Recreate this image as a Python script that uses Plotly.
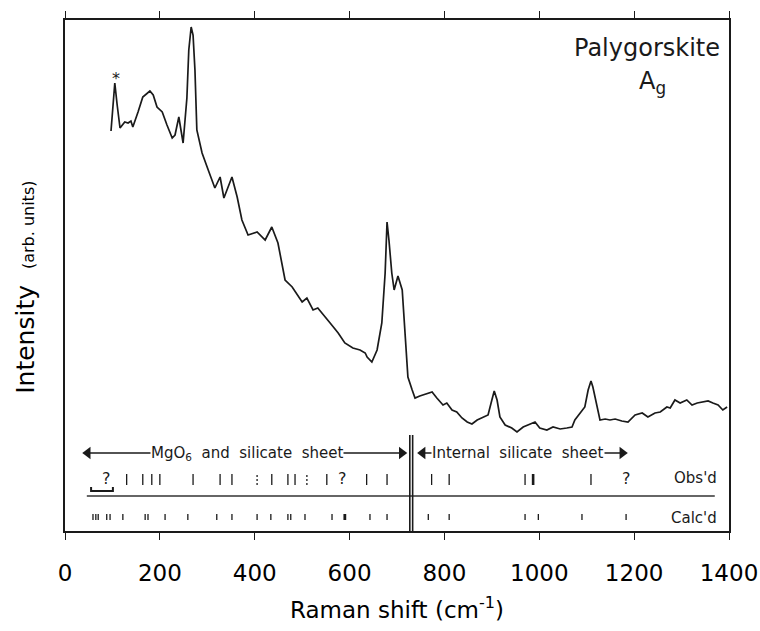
import plotly.graph_objects as go

# ---------------- data ----------------
raman_shift = [97, 101, 105, 110, 116, 126, 133, 139, 143, 154, 164, 179, 186, 194, 205, 215, 226, 232,
               240, 249, 257, 261, 266, 270, 274, 278, 289, 302, 316, 327, 335, 352, 363, 373, 386, 405,
               422, 436, 449, 464, 479, 500, 510, 523, 533, 559, 576, 590, 607, 622, 633, 637, 647, 658,
               668, 675, 679, 683, 689, 694, 702, 711, 717, 723, 732, 738, 748, 759, 774, 784, 797, 805,
               816, 826, 837, 848, 858, 869, 881, 892, 900, 905, 911, 917, 928, 942, 953, 966, 976, 991,
               1001, 1016, 1029, 1044, 1058, 1069, 1075, 1086, 1096, 1103, 1109, 1113, 1122, 1128, 1139,
               1149, 1160, 1174, 1187, 1202, 1217, 1229, 1244, 1255, 1269, 1276, 1286, 1297, 1311, 1322,
               1333, 1343, 1356, 1366, 1377, 1387, 1396]
intensity = [400, 426, 448, 426, 403, 409, 408, 410, 404, 419, 434, 440, 436, 424, 419, 406, 393, 396,
             414, 388, 433, 481, 504, 496, 461, 401, 378, 361, 343, 354, 333, 354, 334, 311, 296, 299,
             291, 304, 288, 251, 244, 229, 233, 221, 223, 208, 198, 188, 183, 181, 178, 174, 169, 181,
             208, 258, 309, 291, 258, 241, 255, 241, 201, 154, 141, 133, 135, 137, 139, 133, 126, 128,
             121, 119, 113, 109, 107, 111, 114, 116, 131, 140, 131, 114, 106, 103, 99, 104, 106, 109,
             103, 101, 104, 102, 103, 104, 111, 118, 124, 141, 150, 144, 124, 111, 112,
             111, 112, 110, 109, 116, 118, 114, 118, 119, 124, 123, 131, 128, 131, 126,
             128, 129, 130, 128, 126, 121, 124]

obs_lines = [130, 164, 183, 200, 270, 327, 352, 436, 470, 485, 552, 636, 679, 773, 810, 970, 1109]
obs_bold = [987]
obs_dotted = [405, 510]
obs_unknown = [88, 586, 1183]
calc_lines = [59, 65, 70, 88, 95, 122, 169, 175, 211, 259, 320, 352, 405, 434, 470, 476, 506, 563,
              643, 679, 766, 810, 970, 998, 1090, 1183]
calc_bold = [590]

x_ticks = [0, 200, 400, 600, 800, 1000, 1200, 1400]
region_labels = ["MgO<sub>6</sub>  and  silicate  sheet", "Internal  silicate  sheet"]
region_spans = [(38, 720), (744, 1185)]
region_centers = [383, 955]

# ---------------- figure ----------------
FONT = "DejaVu Sans"
INK = "#1a1a1a"
fig = go.Figure()


def tick_segments(xs, y0, y1):
    X, Y = [], []
    for v in xs:
        X += [v, v, None]
        Y += [y0, y1, None]
    return X, Y


# spectrum
fig.add_trace(go.Scatter(x=raman_shift, y=intensity, mode="lines",
                         line=dict(color=INK, width=1.7), hoverinfo="skip"))

# observed ticks
X, Y = tick_segments(obs_lines, 46, 57)
fig.add_trace(go.Scatter(x=X, y=Y, mode="lines", line=dict(color=INK, width=1.3)))
X, Y = tick_segments(obs_bold, 46, 57)
fig.add_trace(go.Scatter(x=X, y=Y, mode="lines", line=dict(color=INK, width=2.6)))
X, Y = tick_segments(obs_dotted, 46, 57)
fig.add_trace(go.Scatter(x=X, y=Y, mode="lines", line=dict(color=INK, width=1.3, dash="2px,2px")))

# calculated ticks
X, Y = tick_segments(calc_lines, 11, 17)
fig.add_trace(go.Scatter(x=X, y=Y, mode="lines", line=dict(color=INK, width=1.3)))
X, Y = tick_segments(calc_bold, 11, 17)
fig.add_trace(go.Scatter(x=X, y=Y, mode="lines", line=dict(color=INK, width=2.8)))

# separator line
fig.add_trace(go.Scatter(x=[46, 1370], y=[35, 35], mode="lines", line=dict(color="#333", width=1.5)))
# bracket under the first "?"
fig.add_trace(go.Scatter(x=[55, 55, 101, 101], y=[44, 40, 40, 44], mode="lines",
                         line=dict(color=INK, width=2)))
# double vertical divider
for xv in (727, 733):
    fig.add_trace(go.Scatter(x=[xv, xv], y=[0, 96], mode="lines", line=dict(color=INK, width=1.6)))

# region arrows
for (a, b), c, lab in zip(region_spans, region_centers, region_labels):
    fig.add_trace(go.Scatter(x=[a + 10, b - 10], y=[78, 78], mode="lines",
                             line=dict(color=INK, width=1.3)))
    fig.add_trace(go.Scatter(x=[a + 10, b - 10], y=[78, 78], mode="markers",
                             marker=dict(symbol=["triangle-left", "triangle-right"], size=11,
                                         color=INK, line=dict(width=0))))
    fig.add_annotation(x=c, y=78, text=lab, showarrow=False, bgcolor="white",
                       font=dict(family=FONT, size=15, color=INK), borderpad=0)

for v in obs_unknown:
    fig.add_annotation(x=v, y=53, text="?", showarrow=False,
                       font=dict(family=FONT, size=16, color=INK))

fig.add_annotation(x=1379, y=53, text="Obs'd", showarrow=False, xanchor="right",
                   font=dict(family=FONT, size=15, color=INK))
fig.add_annotation(x=1379, y=13, text="Calc'd", showarrow=False, xanchor="right",
                   font=dict(family=FONT, size=15, color=INK))

# asterisk
fig.add_annotation(x=108, y=453, text="*", showarrow=False,
                   font=dict(family=FONT, size=16, color=INK))

# sample label
fig.add_annotation(x=1228, y=483, text="Palygorskite", showarrow=False,
                   font=dict(family=FONT, size=24, color=INK))
fig.add_annotation(x=1238, y=449, text="A<sub>g</sub>", showarrow=False,
                   font=dict(family=FONT, size=24, color=INK))

# axis titles
fig.add_annotation(xref="paper", yref="paper", x=0.5, y=-0.151, xanchor="center", yanchor="middle",
                   text="Raman shift (cm<sup>-1</sup>)", showarrow=False,
                   font=dict(family=FONT, size=23, color="black"))
fig.add_annotation(xref="paper", yref="paper", x=-0.0587, y=0.476, xanchor="center", yanchor="middle",
                   textangle=-90,
                   text="Intensity  <span style='font-size:16px'>(arb. units)</span>",
                   showarrow=False, font=dict(family=FONT, size=25, color="black"))

fig.update_layout(
    width=760, height=631,
    margin=dict(l=65, r=31, t=20, b=100, autoexpand=False),
    paper_bgcolor="white", plot_bgcolor="white",
    showlegend=False,
    font=dict(family=FONT, color="black"),
)
fig.update_xaxes(range=[0, 1400], tickvals=x_ticks, ticks="outside", ticklen=7, tickwidth=1.3,
                 tickcolor=INK, showline=True, linecolor=INK, linewidth=1.6, mirror="ticks",
                 showgrid=False, zeroline=False, tickfont=dict(family=FONT, size=23, color="black"),
                 ticklabelstandoff=14, automargin=False)
fig.update_yaxes(range=[0, 511], showticklabels=False, ticks="", showline=True, linecolor=INK,
                 linewidth=1.8, mirror=True, showgrid=False, zeroline=False, automargin=False)

fig.write_html("out.html")
